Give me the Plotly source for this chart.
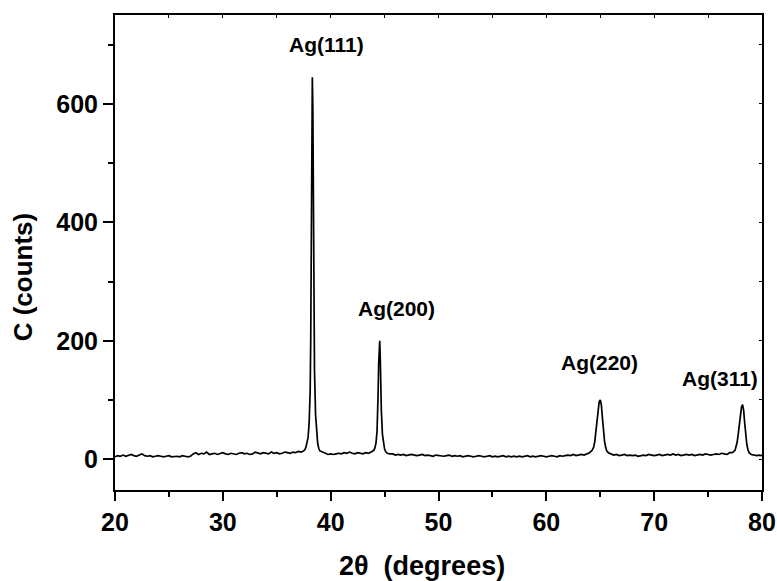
import numpy as np
import plotly.graph_objects as go

# ---- data ----
segA_y = [4,6,5,7,5,6,8,6,5,7, 9,6,5,6,4,5,6,5,4,5, 6,4,5,5,4,6,5,4,5,
          9,11,8,10,9,12,8,9,10,8, 9,11,9,8,10,9,8,10,11,9, 10,8,9,12,10,9,11,10,9,12,
          10,11,9,10,12,11,10,12,11,13, 12,14]
segA_x = np.round(np.linspace(20.0, 37.5, len(segA_y)), 3)

p111_x = [37.6, 37.7, 37.8, 37.9, 38.0, 38.1, 38.15, 38.2, 38.25, 38.3, 38.35, 38.4, 38.45, 38.5, 38.6, 38.7, 38.8, 38.9, 39.0]
p111_y = [16, 20, 26, 36, 60, 115, 200, 380, 560, 645, 590, 420, 260, 150, 75, 42, 26, 18, 14]

segB_y = [12,10,8,9,8,9,10,9,11,10,12,10,9,11,10,9,11,10,12,15]
segB_x = np.round(np.linspace(39.25, 44.0, len(segB_y)), 3)

p200_x = [44.1, 44.2, 44.3, 44.35, 44.4, 44.45, 44.5, 44.55, 44.6, 44.65, 44.7, 44.8, 44.9, 45.0, 45.1]
p200_y = [19, 27, 47, 70, 110, 160, 195, 200, 170, 120, 82, 42, 25, 17, 13]

segC_y = [10,9,9,7,8,7,8,6,7,8, 7,6,7,8,6,7,6,5,7,6, 6,5,6,7,5,6,5,6,4,5,
          6,5,4,5,6,5,4,5,6,4, 5,4,5,6,4,5,4,5,4,5, 4,5,6,4,5,4,5,6,5,4,
          5,6,5,4,6,5,6,7,6,8, 6,7,8,7,9,11,15]
segC_x = np.round(np.linspace(45.25, 64.25, len(segC_y)), 3)

p220_x = [64.4, 64.5, 64.6, 64.7, 64.8, 64.9, 65.0, 65.1, 65.2, 65.3, 65.4, 65.5, 65.6]
p220_y = [21, 31, 46, 66, 85, 97, 100, 92, 70, 46, 30, 20, 14]

segD_y = [11,9,7,8,6,7,8,6,7,6, 7,5,6,7,6,8,7,6,7,8, 6,7,8,7,9,7,8,6,7,8,
          7,8,6,7,8,7,9,8,7,8, 9,8,10,9,8,11,11,15]
segD_x = np.round(np.linspace(65.75, 77.5, len(segD_y)), 3)

p311_x = [77.6, 77.7, 77.8, 77.9, 78.0, 78.1, 78.2, 78.3, 78.4, 78.5, 78.6, 78.7, 78.8]
p311_y = [21, 29, 43, 60, 78, 88, 92, 82, 60, 39, 24, 16, 11]

segE_y = [8, 7, 6, 7, 6]
segE_x = np.round(np.linspace(79.0, 80.0, len(segE_y)), 3)

peak_labels = ["Ag(111)", "Ag(200)", "Ag(220)", "Ag(311)"]
label_x = [39.6, 46.1, 64.9, 76.1]
label_y = [700, 255, 164, 137]

x_ticks = [20, 30, 40, 50, 60, 70, 80]
y_ticks = [0, 200, 400, 600]

two_theta = np.concatenate([segA_x, p111_x, segB_x, p200_x, segC_x, p220_x, segD_x, p311_x, segE_x])
counts = np.concatenate([segA_y, p111_y, segB_y, p200_y, segC_y, p220_y, segD_y, p311_y, segE_y])

FONT = "Liberation Sans"

fig = go.Figure()
fig.add_trace(go.Scatter(x=two_theta, y=counts, mode="lines",
                         line=dict(color="black", width=1.7), showlegend=False))
# invisible trace for mirrored axes
fig.add_trace(go.Scatter(x=[20, 80], y=[0, 0], xaxis="x2", yaxis="y2", mode="lines",
                         line=dict(width=0), hoverinfo="skip", showlegend=False))

for t, xx, yy in zip(peak_labels, label_x, label_y):
    fig.add_annotation(x=xx, y=yy, text=t, showarrow=False,
                       font=dict(family=FONT, size=21, color="black", weight="bold"))

# axis titles
fig.add_annotation(xref="paper", yref="paper", x=0.4745, y=-0.16, text="2θ  (degrees)",
                   showarrow=False, xanchor="center", yanchor="middle",
                   font=dict(family=FONT, size=27, color="black", weight="bold"))
fig.add_annotation(xref="paper", yref="paper", x=-0.142, y=0.448, text="C (counts)",
                   textangle=-90, showarrow=False, xanchor="center", yanchor="middle",
                   font=dict(family=FONT, size=26, color="black", weight="bold"))

fig.update_layout(
    width=777, height=581,
    margin=dict(l=115, r=15, t=15, b=91, autoexpand=False),
    plot_bgcolor="white", paper_bgcolor="white",
    xaxis=dict(range=[20, 80], tickvals=x_ticks, ticks="outside", ticklen=9, tickwidth=1.5,
               tickcolor="black", showline=True, linewidth=2, linecolor="black",
               showgrid=False, zeroline=False, automargin=False,
               minor=dict(dtick=5, ticks="outside", ticklen=5, tickwidth=1.5, tickcolor="black"),
               tickfont=dict(family=FONT, size=25, color="black", weight="bold")),
    yaxis=dict(range=[-52, 750], tickvals=y_ticks, ticks="outside", ticklen=10, tickwidth=1.5,
               tickcolor="black", showline=True, linewidth=2, linecolor="black",
               showgrid=False, zeroline=False, automargin=False,
               minor=dict(dtick=100, ticks="outside", ticklen=5, tickwidth=1.5, tickcolor="black"),
               tickfont=dict(family=FONT, size=25, color="black", weight="bold")),
    xaxis2=dict(range=[20, 80], overlaying="x", side="top", anchor="y2", showticklabels=False,
                ticks="inside", ticklen=3, tickwidth=1, tickcolor="black", dtick=5,
                showline=True, linewidth=2, linecolor="black", showgrid=False, zeroline=False,
                automargin=False),
    yaxis2=dict(range=[-52, 750], overlaying="y", side="right", anchor="x2", showticklabels=False,
                ticks="inside", ticklen=3, tickwidth=1, tickcolor="black", dtick=100,
                showline=True, linewidth=2, linecolor="black", showgrid=False, zeroline=False,
                automargin=False),
)

fig.write_html("out.html", config={"displayModeBar": False},
               post_script="document.body.style.margin='0px';")
